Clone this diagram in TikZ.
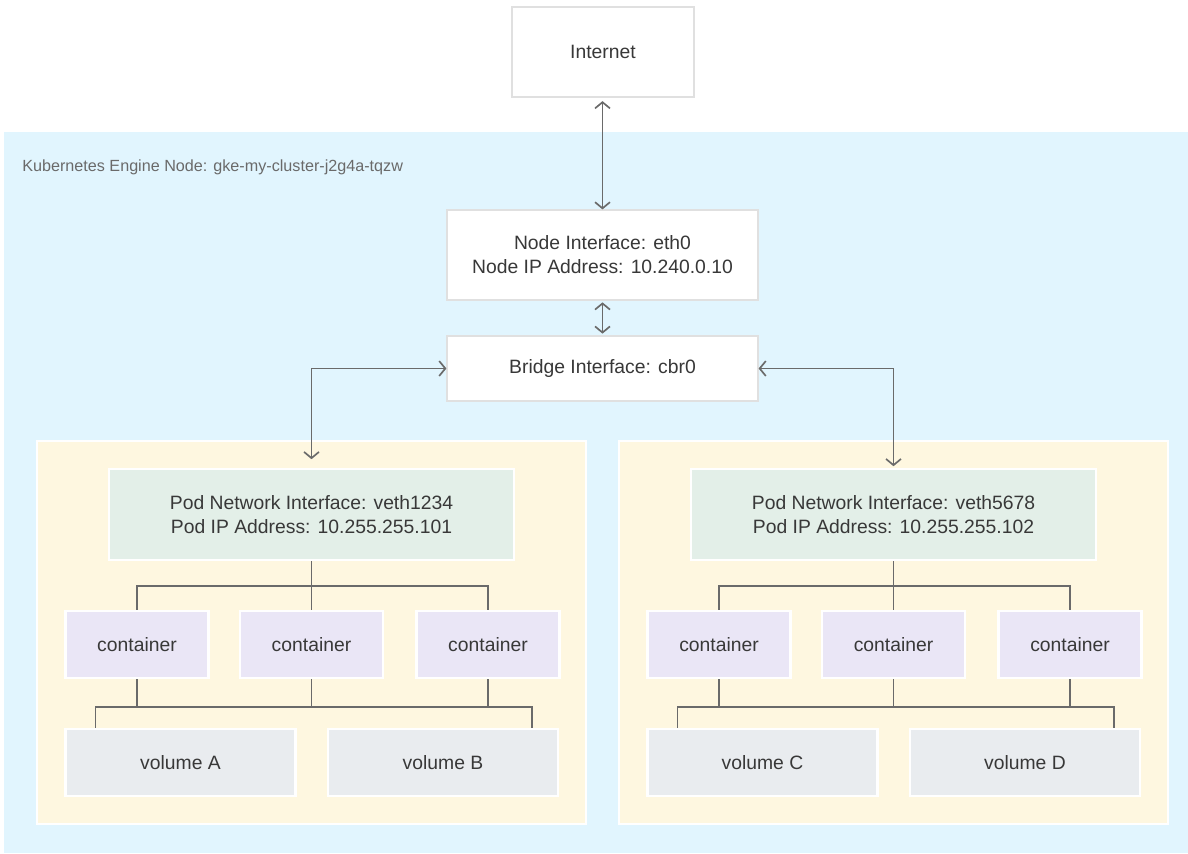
\documentclass[tikz,border=0pt]{standalone}
\usepackage{fontspec}
\setmainfont{Liberation Sans}
\usetikzlibrary{arrows.meta}
\definecolor{nodeblue}{HTML}{E1F5FE}
\definecolor{podyellow}{HTML}{FEF7E0}
\definecolor{ifgreen}{HTML}{E3EFE8}
\definecolor{ctrpurple}{HTML}{EAE6F6}
\definecolor{volgray}{HTML}{E9ECEF}
\definecolor{linkgray}{HTML}{6A6A6A}
\definecolor{textgray}{HTML}{383838}
\definecolor{edgegray}{HTML}{E0E0E0}

\begin{document}
\begin{tikzpicture}[
  x=0.02cm, y=-0.02cm,
  box/.style={
    draw=white,
    line width=1.2pt,
    inner sep=0pt,
    align=center,
    text=textgray,
    font=\fontsize{11}{13.6}\selectfont
  },
  ifbox/.style={box, fill=white, draw=edgegray, line width=0.7pt, minimum width=6.22cm},
  podbox/.style={box, fill=podyellow, minimum width=10.98cm, minimum height=7.66cm},
  pifbox/.style={box, fill=ifgreen, minimum width=8.1cm, minimum height=1.82cm},
  ctrbox/.style={box, fill=ctrpurple, minimum width=2.86cm, minimum height=1.34cm},
  volbox/.style={box, fill=volgray, minimum width=4.6cm, minimum height=1.34cm},
  link/.style={draw=linkgray, line width=0.95pt},
  biarrow/.style={
    link,
    {Straight Barb[length=3.5pt,width=8.5pt]}-{Straight Barb[length=3.5pt,width=8.5pt]}
  }
]
\useasboundingbox (0,0) rectangle (1188,853);
% node area
\fill[nodeblue] (4,132) rectangle (1188,853);
\node[anchor=west, inner sep=0pt, text=linkgray, font=\fontsize{9.2}{11}\selectfont]
  (clabel) at (22,167) {Kubernetes Engine Node: gke-my-cluster-j2g4a-tqzw};

\node[ifbox, minimum width=3.64cm, minimum height=1.8cm] (inet) at (603,52) {Internet};
\node[ifbox, minimum height=1.8cm] (eth) at (602.5,255)
  {Node Interface: eth0\\Node IP Address: 10.240.0.10};
\node[ifbox, minimum height=1.3cm] (cbr) at (602.5,368.5) {Bridge Interface: cbr0};

\draw[biarrow, shorten <=2pt] (inet.south -| eth.north) -- (eth.north);
\draw[biarrow, shorten <=1pt, shorten >=1pt] (eth.south) -- (cbr.north);

% the two pods
\foreach \p/\dx/\vl/\vr/\veth/\ip in {a/0/A/B/1234/101, b/582/C/D/5678/102} {
  \node[podbox] (pod\p) at (\dx+311.5,632.5) {};
  \node[pifbox] (pif\p) at (\dx+311.5,514.5)
    {Pod Network Interface: veth\veth\\Pod IP Address: 10.255.255.\ip};
  \node[ctrbox] (c\p1) at (\dx+137,644.5) {container};
  \node[ctrbox] (c\p2) at (\dx+311.5,644.5) {container};
  \node[ctrbox] (c\p3) at (\dx+488,644.5) {container};
  \node[volbox] (v\p1) at (\dx+180.5,762.5) {volume \vl};
  \node[volbox] (v\p2) at (\dx+443,762.5) {volume \vr};
  % pod interface to containers
  \draw[link] (c\p1.north) -- ++(0,-24) -| (c\p3.north);
  \draw[link] (pif\p.south) -- (c\p2.north);
  % containers to volumes
  \coordinate (j\p) at (\dx+311.5,707);
  \foreach \k in {1,2,3} {\draw[link] (c\p\k.south) -- (c\p\k.south |- j\p);}
  \draw[link] ([xshift=0.62cm]v\p1.north west) |- (j\p)
    -| ([xshift=-0.54cm]v\p2.north east);
}

\draw[biarrow, shorten >=5pt] (cbr.west) -| (pifa.north);
\draw[biarrow, shorten >=1pt] (cbr.east) -| (pifb.north);
\end{tikzpicture}
\end{document}
